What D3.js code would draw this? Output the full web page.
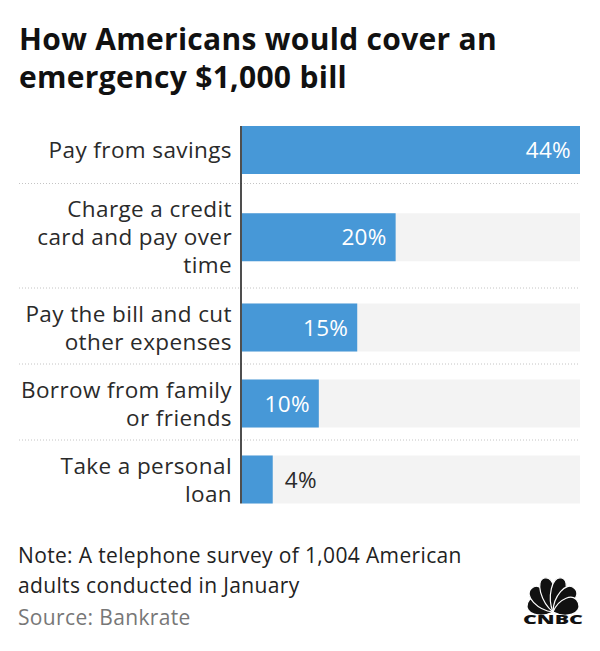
<!DOCTYPE html>
<html>
<head>
<meta charset="utf-8">
<script src="https://cdn.jsdelivr.net/npm/d3@7"></script>
<style>
  html, body { margin: 0; padding: 0; background: #fff; }
  svg { display: block; }
  text { font-family: "Open Sans", Lato, sans-serif; }
</style>
</head>
<body>
<div id="chart"></div>
<script>
// ---- data ----
const title = ["How Americans would cover an", "emergency $1,000 bill"];
const categories = [
  ["Pay from savings"],
  ["Charge a credit", "card and pay over", "time"],
  ["Pay the bill and cut", "other expenses"],
  ["Borrow from family", "or friends"],
  ["Take a personal", "loan"]
];
const values = [44, 20, 15, 10, 4];
const valueLabels = ["44%", "20%", "15%", "10%", "4%"];
const xDomain = [0, 44];
const noteLines = ["Note: A telephone survey of 1,004 American", "adults conducted in January"];
const sourceText = "Source: Bankrate";
const logoText = "CNBC";

// ---- layout ----
const W = 600, H = 651;
const svg = d3.select("#chart").append("svg").attr("width", W).attr("height", H);

svg.append("g").selectAll("text").data(title).join("text")
  .attr("x", 19).attr("y", (d, i) => 50 + i * 38)
  .attr("font-size", 30).attr("font-weight", 700).attr("fill", "#111")
  .attr("letter-spacing", 0.3)
  .text(d => d);

const x = d3.scaleLinear().domain(xDomain).range([242, 580]);
const barH = 48, lineH = 28;

// row geometry from number of label lines
let rowTop = 116.5;
const rows = categories.map((lines, i) => {
  const h = (lines.length > 2 ? 104.5 : 76) - (i === 0 ? 9 : 0);
  const r = { top: rowTop, h, bottom: rowTop + h };
  r.center = i === 0 ? rowTop + h / 2 : rowTop + h / 2 + 1.5;
  rowTop += h;
  return r;
});

const g = svg.append("g");

// grey track
g.selectAll("rect.track").data(values).join("rect").attr("class", "track")
  .attr("x", x(0)).attr("width", x(xDomain[1]) - x(0))
  .attr("y", (d, i) => rows[i].center - barH / 2).attr("height", barH)
  .attr("fill", "#f3f3f3");

// bars
g.selectAll("rect.bar").data(values).join("rect").attr("class", "bar")
  .attr("x", x(0)).attr("width", d => x(d) - x(0))
  .attr("y", (d, i) => rows[i].center - barH / 2).attr("height", barH)
  .attr("fill", "#4798d7");

// dotted separators
g.selectAll("line.sep").data(rows.slice(0, -1)).join("line").attr("class", "sep")
  .attr("x1", 19).attr("x2", 580)
  .attr("y1", d => d.bottom).attr("y2", d => d.bottom)
  .attr("stroke", "#c4c4c4").attr("stroke-width", 1).attr("stroke-dasharray", "1,2");

// axis line
g.append("line")
  .attr("x1", x(0) - 1).attr("x2", x(0) - 1)
  .attr("y1", rows[0].center - barH / 2).attr("y2", rows[rows.length - 1].center + barH / 2)
  .attr("stroke", "#222").attr("stroke-width", 1.6);

// category labels
categories.forEach((lines, i) => {
  const n = lines.length;
  g.append("text")
    .attr("text-anchor", "end").attr("font-size", 22.5).attr("fill", "#2a2a2a")
    .attr("letter-spacing", 0.4)
    .selectAll("tspan").data(lines).join("tspan")
    .attr("x", 232)
    .attr("y", (d, j) => rows[i].center + 8 + (j - (n - 1) / 2) * lineH)
    .text(d => d);
});

// value labels
g.selectAll("text.val").data(values).join("text").attr("class", "val")
  .attr("font-size", 22.5).attr("letter-spacing", 0.3)
  .attr("x", d => (x(d) - x(0) > 50 ? x(d) - 9 : x(d) + 12))
  .attr("text-anchor", d => (x(d) - x(0) > 50 ? "end" : "start"))
  .attr("fill", d => (x(d) - x(0) > 50 ? "#fff" : "#2a2a2a"))
  .attr("y", (d, i) => rows[i].center + 8)
  .text((d, i) => valueLabels[i]);

// note + source
svg.append("g").selectAll("text").data(noteLines).join("text")
  .attr("x", 18).attr("y", (d, i) => 563 + i * 30)
  .attr("font-size", 21).attr("letter-spacing", 0.35).attr("fill", "#222").text(d => d);
svg.append("text").attr("x", 18).attr("y", 625)
  .attr("font-size", 21).attr("letter-spacing", 0.35).attr("fill", "#777").text(sourceText);

// CNBC peacock logo
const logo = svg.append("g").attr("transform", "translate(553,612)");
const feathers = [
  { a: -70, L: 27, w: 10.5 }, { a: -42, L: 32, w: 10 }, { a: -14, L: 35, w: 9 },
  { a: 14, L: 35, w: 9 }, { a: 42, L: 32, w: 10 }, { a: 70, L: 27, w: 10.5 }
];
logo.selectAll("path").data(feathers).join("path")
  .attr("d", f => `M0,0 C${-f.w},${-f.L * 0.35} ${-f.w * 1.15},${-f.L} 0,${-f.L} C${f.w * 1.15},${-f.L} ${f.w},${-f.L * 0.35} 0,0 Z`)
  .attr("transform", f => `rotate(${f.a})`)
  .attr("fill", "#111").attr("stroke", "#fff").attr("stroke-width", 1.2);
svg.append("text").attr("x", 553).attr("y", 624).attr("text-anchor", "middle")
  .attr("font-family", "Liberation Sans, Arial, sans-serif")
  .attr("font-size", 12.5).attr("font-weight", 900).attr("fill", "#111")
  .attr("textLength", 60).attr("lengthAdjust", "spacingAndGlyphs")
  .text(logoText);
</script>
</body>
</html>
